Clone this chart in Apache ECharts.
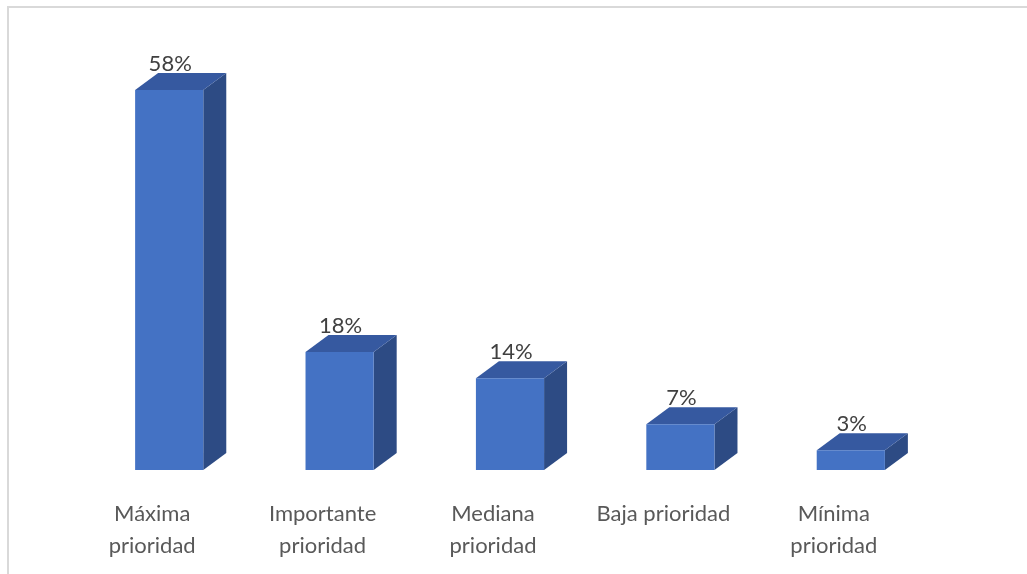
<!DOCTYPE html>
<html>
<head>
<meta charset="utf-8">
<script src="https://cdn.jsdelivr.net/npm/echarts@6/dist/echarts.min.js"></script>
<style>
  html, body { margin: 0; padding: 0; background: #ffffff; }
  #chart { width: 1027px; height: 574px; }
</style>
</head>
<body>
<div id="chart"></div>
<script>
// Priority categories and their share (%)
const categories = ['Máxima\nprioridad', 'Importante\nprioridad', 'Mediana\nprioridad', 'Baja prioridad', 'Mínima\nprioridad'];
const shares = [58, 18, 14, 7, 3];

const FRONT = '#4472C4';
const TOP = '#3659A0';
const SIDE = '#2D4B84';
const DEPTH_X = 23;
const DEPTH_Y = -17;
const FONT = 'Lato, "Open Sans", sans-serif';

const chart = echarts.init(document.getElementById('chart'));

// Box-shaped column: front face, top face, right side face and a value label
function renderBox(params, api) {
  const idx = api.value(0);
  const val = api.value(1);
  const topPt = api.coord([idx, val]);
  const basePt = api.coord([idx, 0]);
  const w = api.size([1, 0])[0] * 0.4;
  const x0 = topPt[0] - w / 2;
  const x1 = topPt[0] + w / 2;
  const yt = topPt[1];
  const yb = basePt[1];
  return {
    type: 'group',
    children: [
      {
        type: 'polygon',
        shape: { points: [[x1, yt], [x1 + DEPTH_X, yt + DEPTH_Y], [x1 + DEPTH_X, yb + DEPTH_Y], [x1, yb]] },
        style: { fill: SIDE }
      },
      {
        type: 'polygon',
        shape: { points: [[x0, yt], [x1, yt], [x1 + DEPTH_X, yt + DEPTH_Y], [x0 + DEPTH_X, yt + DEPTH_Y]] },
        style: { fill: TOP }
      },
      {
        type: 'rect',
        shape: { x: x0, y: yt, width: w, height: yb - yt },
        style: { fill: FRONT }
      },
      {
        type: 'text',
        x: topPt[0] + 1,
        y: yt + DEPTH_Y - 9,
        style: {
          text: val + '%',
          fill: '#404040',
          font: '22px ' + FONT,
          align: 'center',
          verticalAlign: 'middle'
        }
      }
    ]
  };
}

chart.setOption({
  backgroundColor: '#ffffff',
  animation: false,
  grid: { left: 84, right: 91, top: 77, bottom: 104 },
  xAxis: {
    type: 'category',
    data: categories,
    axisLine: { show: false },
    axisTick: { show: false },
    axisLabel: {
      color: '#595959',
      fontFamily: FONT,
      fontSize: 22,
      lineHeight: 32,
      margin: 28,
      padding: [0, 34, 0, 0],
      interval: 0
    }
  },
  yAxis: {
    type: 'value',
    min: 0,
    max: 60,
    show: false,
    splitLine: { show: false }
  },
  series: [{
    type: 'custom',
    renderItem: renderBox,
    data: shares.map((v, i) => [i, v])
  }],
  graphic: [{
    type: 'polyline',
    shape: { points: [[8, 574], [8, 7], [1027, 7]] },
    style: { stroke: '#D9D9D9', lineWidth: 2, fill: null },
    silent: true
  }]
});
</script>
</body>
</html>
